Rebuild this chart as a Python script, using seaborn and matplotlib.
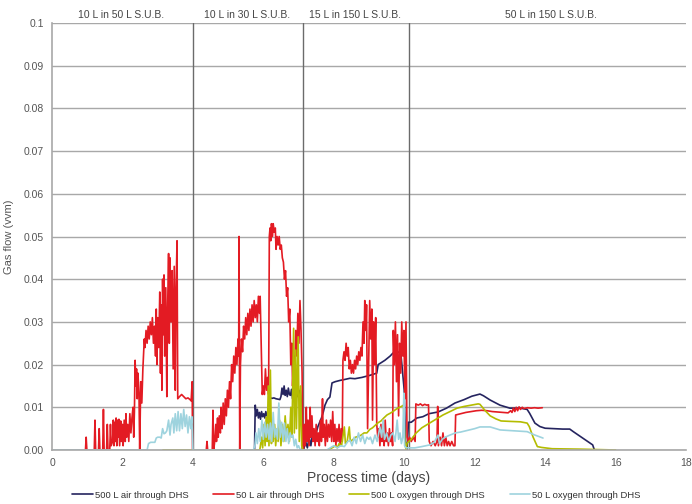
import numpy as np
import pandas as pd
import matplotlib
matplotlib.use("Agg")
import matplotlib.pyplot as plt
import seaborn as sns

# (process day, gas flow in vvm)
air_500 = [
    (5.75, 0), (5.77, 0.0105), (5.80, 0.008), (5.83, 0.0095), (5.86, 0.0075), (5.89, 0.0088),
    (5.92, 0.0072), (5.95, 0.009), (5.98, 0.0078), (6.01, 0.0085), (6.04, 0.0075), (6.07, 0.009),
    (6.10, 0.008), (6.13, 0.0088), (6.16, 0.0085), (6.19, 0.0122), (6.25, 0.0121), (6.30, 0.0122),
    (6.36, 0.012), (6.42, 0.0119), (6.47, 0.0118), (6.50, 0.0125), (6.53, 0.0145), (6.56, 0.013),
    (6.59, 0.015), (6.62, 0.0128), (6.65, 0.014), (6.68, 0.0125), (6.71, 0.0145), (6.74, 0.013),
    (6.77, 0.0128), (6.80, 0.0142), (6.83, 0.012), (6.86, 0.0148), (6.90, 0.0135), (6.93, 0.015),
    (6.96, 0.0125), (6.99, 0.0145), (7.02, 0.012), (7.05, 0.014), (7.08, 0.011), (7.11, 0.0),
    (7.14, 0.0), (7.20, 0.002), (7.25, 0.0005), (7.30, 0.003), (7.35, 0.001), (7.40, 0.004),
    (7.45, 0.002), (7.50, 0.004), (7.55, 0.0055), (7.60, 0.0065), (7.65, 0.0075), (7.70, 0.0088),
    (7.75, 0.0105), (7.82, 0.0118), (7.89, 0.0124), (7.95, 0.0157), (8.04, 0.016), (8.18, 0.0163),
    (8.30, 0.0165), (8.46, 0.0168), (8.60, 0.0167), (8.80, 0.017), (9.03, 0.0175), (9.22, 0.018),
    (9.26, 0.02), (9.45, 0.021), (9.60, 0.022), (9.68, 0.0227), (9.90, 0.023), (10.0, 0.014),
    (10.03, 0.002), (10.08, 0.0), (10.12, 0.0065), (10.20, 0.0065), (10.36, 0.0075), (10.53, 0.0078),
    (10.70, 0.0085), (10.96, 0.0089), (11.2, 0.0098), (11.44, 0.011), (11.7, 0.0118), (11.92, 0.0126),
    (12.15, 0.0131), (12.25, 0.0127), (12.44, 0.0117), (12.72, 0.0105), (13.0, 0.0098), (13.3, 0.0098),
    (13.49, 0.0095), (13.56, 0.0086), (13.71, 0.0063), (13.85, 0.0055), (14.0, 0.0051), (14.5, 0.0049),
    (14.7, 0.0049), (14.8, 0.0043), (15.35, 0.0012), (15.4, 0.0),
]

air_50 = [
    (0.95, 0), (0.97, 0.003), (0.99, 0), (1.20, 0), (1.22, 0.007), (1.24, 0),
    (1.32, 0), (1.34, 0.005), (1.36, 0), (1.44, 0), (1.46, 0.0095), (1.48, 0),
    (1.55, 0), (1.57, 0.006), (1.59, 0), (1.64, 0), (1.66, 0.006), (1.68, 0.001),
    (1.72, 0.002), (1.74, 0.007), (1.76, 0.001), (1.78, 0.0065), (1.80, 0.002), (1.82, 0.0075),
    (1.84, 0.001), (1.86, 0.007), (1.88, 0.003), (1.90, 0.0072), (1.92, 0.001), (1.95, 0.0068),
    (1.97, 0.002), (2.00, 0.006), (2.02, 0.001), (2.05, 0.007), (2.08, 0.002), (2.10, 0.0085),
    (2.12, 0.003), (2.15, 0.006), (2.18, 0.002), (2.21, 0.0085), (2.24, 0.004), (2.27, 0.0075),
    (2.30, 0.01), (2.32, 0.003), (2.34, 0.009), (2.36, 0.021), (2.38, 0.015), (2.40, 0.019),
    (2.42, 0.012), (2.44, 0.018), (2.47, 0.013), (2.49, 0.0), (2.52, 0.016), (2.55, 0.011),
    (2.58, 0.019), (2.62, 0.026), (2.64, 0.024), (2.67, 0.028), (2.70, 0.025), (2.73, 0.029),
    (2.76, 0.026), (2.79, 0.03), (2.82, 0.027), (2.85, 0.031), (2.88, 0.025), (2.91, 0.029),
    (2.94, 0.022), (2.96, 0.033), (2.98, 0.02), (3.00, 0.031), (3.03, 0.024), (3.06, 0.037),
    (3.08, 0.018), (3.10, 0.034), (3.12, 0.014), (3.14, 0.04), (3.16, 0.027), (3.18, 0.041),
    (3.20, 0.022), (3.23, 0.038), (3.26, 0.0125), (3.28, 0.032), (3.31, 0.046), (3.33, 0.025),
    (3.35, 0.045), (3.38, 0.03), (3.41, 0.042), (3.44, 0.019), (3.47, 0.043), (3.50, 0.014),
    (3.52, 0.037), (3.55, 0.049), (3.57, 0.012), (3.62, 0.0125), (3.68, 0.013), (3.74, 0.0125),
    (3.80, 0.012), (3.86, 0.0122), (3.92, 0.0118), (3.95, 0.0115), (3.98, 0.016), (3.99, 0.0),
    (4.38, 0), (4.40, 0.002), (4.42, 0), (4.55, 0), (4.57, 0.0093), (4.59, 0),
    (4.62, 0.002), (4.65, 0.006), (4.67, 0.002), (4.70, 0.0075), (4.72, 0.003), (4.75, 0.008),
    (4.78, 0.004), (4.80, 0.01), (4.83, 0.005), (4.86, 0.011), (4.89, 0.006), (4.92, 0.012),
    (4.95, 0.008), (4.98, 0.014), (5.01, 0.01), (5.04, 0.016), (5.07, 0.012), (5.10, 0.02),
    (5.13, 0.016), (5.16, 0.022), (5.19, 0.018), (5.22, 0.024), (5.25, 0.02), (5.28, 0.026),
    (5.30, 0.022), (5.31, 0.05), (5.33, 0.0), (5.35, 0.02), (5.38, 0.026), (5.41, 0.023),
    (5.44, 0.029), (5.47, 0.026), (5.50, 0.031), (5.53, 0.027), (5.56, 0.032), (5.59, 0.028),
    (5.62, 0.033), (5.65, 0.029), (5.68, 0.034), (5.71, 0.03), (5.74, 0.035), (5.77, 0.031),
    (5.80, 0.034), (5.83, 0.03), (5.86, 0.036), (5.89, 0.032), (5.91, 0.036), (5.94, 0.024),
    (5.97, 0.013), (6.00, 0.015), (6.03, 0.013), (6.06, 0.019), (6.09, 0.014), (6.12, 0.017),
    (6.15, 0.013), (6.17, 0.05), (6.19, 0.052), (6.21, 0.049), (6.23, 0.053), (6.26, 0.05),
    (6.28, 0.053), (6.31, 0.051), (6.34, 0.052), (6.36, 0.047), (6.39, 0.05), (6.42, 0.048),
    (6.45, 0.05), (6.48, 0.047), (6.51, 0.048), (6.54, 0.045), (6.57, 0.044), (6.60, 0.04),
    (6.63, 0.042), (6.66, 0.036), (6.69, 0.038), (6.72, 0.03), (6.75, 0.033), (6.78, 0.02),
    (6.81, 0.025), (6.83, 0.015), (6.86, 0.022), (6.89, 0.018), (6.92, 0.028), (6.95, 0.022),
    (6.98, 0.032), (7.01, 0.025), (7.04, 0.035), (7.07, 0.028), (7.10, 0.018), (7.12, 0.0),
    (7.14, 0), (7.17, 0.006), (7.19, 0.001), (7.22, 0.01), (7.24, 0.002), (7.27, 0.007),
    (7.30, 0.001), (7.33, 0.01), (7.35, 0.003), (7.38, 0.008), (7.41, 0.002), (7.44, 0.005),
    (7.47, 0.001), (7.50, 0.006), (7.53, 0.002), (7.56, 0.004), (7.59, 0.001), (7.62, 0.007),
    (7.65, 0.002), (7.68, 0.012), (7.70, 0.003), (7.73, 0.006), (7.76, 0.001), (7.79, 0.007),
    (7.82, 0.002), (7.85, 0.006), (7.88, 0.003), (7.91, 0.007), (7.94, 0.002), (7.97, 0.009),
    (8.00, 0.002), (8.03, 0.006), (8.06, 0.001), (8.09, 0.005), (8.12, 0.002), (8.15, 0.006),
    (8.18, 0.001), (8.21, 0.005), (8.24, 0.002), (8.26, 0.021), (8.29, 0.023), (8.32, 0.021),
    (8.35, 0.025), (8.38, 0.022), (8.41, 0.024), (8.44, 0.019), (8.47, 0.021), (8.50, 0.018),
    (8.53, 0.02), (8.56, 0.018), (8.59, 0.021), (8.62, 0.019), (8.65, 0.022), (8.68, 0.02),
    (8.71, 0.023), (8.74, 0.021), (8.77, 0.024), (8.80, 0.022), (8.83, 0.03), (8.86, 0.025),
    (8.88, 0.035), (8.91, 0.028), (8.93, 0.034), (8.96, 0.005), (8.99, 0.02), (9.02, 0.035),
    (9.05, 0.026), (9.08, 0.033), (9.10, 0.007), (9.13, 0.03), (9.16, 0.02), (9.19, 0.031),
    (9.22, 0.006), (9.25, 0.003), (9.28, 0.005), (9.31, 0.001), (9.34, 0.006), (9.37, 0.002),
    (9.40, 0.004), (9.43, 0.001), (9.46, 0.007), (9.49, 0.002), (9.52, 0.004), (9.55, 0.001),
    (9.58, 0.005), (9.61, 0.002), (9.64, 0.004), (9.67, 0.001), (9.69, 0.028), (9.72, 0.02),
    (9.75, 0.03), (9.78, 0.016), (9.81, 0.027), (9.84, 0.008), (9.87, 0.025), (9.90, 0.018),
    (9.93, 0.03), (9.96, 0.022), (9.99, 0.028), (10.02, 0.012), (10.05, 0.03), (10.08, 0.003),
    (10.11, 0.002), (10.15, 0.003), (10.2, 0.002), (10.26, 0.003), (10.31, 0.002), (10.33, 0.0108),
    (10.40, 0.0105), (10.46, 0.0108), (10.52, 0.0104), (10.58, 0.0107), (10.64, 0.0105), (10.69, 0.0106),
    (10.71, 0.002), (10.76, 0.001), (10.82, 0.002), (10.88, 0.001), (10.93, 0.002), (10.95, 0.0102),
    (10.97, 0.001), (11.02, 0.003), (11.06, 0.001), (11.10, 0.004), (11.14, 0.001), (11.18, 0.003),
    (11.22, 0.001), (11.26, 0.002), (11.30, 0.001), (11.35, 0.002), (11.40, 0.001), (11.44, 0.001),
    (11.46, 0.0082), (11.6, 0.0085), (11.75, 0.0088), (11.9, 0.009), (12.05, 0.0092), (12.2, 0.0093),
    (12.35, 0.0092), (12.5, 0.009), (12.65, 0.0089), (12.8, 0.0088), (12.95, 0.0087), (13.02, 0.0092),
    (13.06, 0.0088), (13.10, 0.0098), (13.14, 0.009), (13.18, 0.01), (13.22, 0.0092), (13.26, 0.0101),
    (13.30, 0.0095), (13.35, 0.01), (13.40, 0.0097), (13.5, 0.0099), (13.6, 0.0098), (13.7, 0.0099),
    (13.8, 0.0098), (13.92, 0.0099),
]

oxygen_500 = [
    (3.15, 0), (3.98, 0), (5.90, 0), (5.95, 0.003), (5.98, 0.0005), (6.02, 0.006),
    (6.05, 0.001), (6.08, 0.0077), (6.11, 0.002), (6.14, 0.015), (6.16, 0.001), (6.20, 0.0187),
    (6.23, 0.0015), (6.26, 0.005), (6.28, 0.002), (6.32, 0.006), (6.35, 0.001), (6.39, 0.005),
    (6.42, 0.002), (6.46, 0.007), (6.50, 0.001), (6.54, 0.006), (6.58, 0.002), (6.62, 0.008),
    (6.66, 0.003), (6.70, 0.006), (6.74, 0.002), (6.78, 0.01), (6.81, 0.003), (6.86, 0.0285),
    (6.88, 0.004), (6.92, 0.0234), (6.94, 0.005), (6.99, 0.0265), (7.02, 0.002), (7.06, 0.015),
    (7.09, 0.001), (7.12, 0), (7.85, 0), (7.95, 0.0005), (8.05, 0.001), (8.10, 0.0005),
    (8.15, 0.0015), (8.22, 0.001), (8.30, 0.0054), (8.33, 0.0015), (8.38, 0.002), (8.44, 0.0054),
    (8.47, 0.002), (8.55, 0.0025), (8.62, 0.003), (8.70, 0.0032), (8.78, 0.0035), (8.86, 0.004),
    (8.94, 0.004), (9.02, 0.0048), (9.10, 0.0052), (9.18, 0.0058), (9.26, 0.0064), (9.34, 0.0068),
    (9.42, 0.0075), (9.51, 0.0082), (9.60, 0.0086), (9.68, 0.009), (9.76, 0.0095), (9.84, 0.0099),
    (9.92, 0.0102), (9.98, 0.0105), (10.02, 0.002), (10.05, 0.0), (10.08, 0.0016), (10.2, 0.0025),
    (10.34, 0.004), (10.5, 0.0052), (10.7, 0.0062), (10.9, 0.0072), (11.1, 0.0082), (11.3, 0.009),
    (11.5, 0.0098), (11.7, 0.0102), (11.9, 0.0105), (12.1, 0.0108), (12.15, 0.0107), (12.3, 0.0092),
    (12.44, 0.008), (12.6, 0.0073), (12.75, 0.0068), (13.0, 0.0067), (13.3, 0.0066), (13.49, 0.0063),
    (13.55, 0.0055), (13.66, 0.003), (13.78, 0.0008), (13.9, 0.0006), (14.2, 0.0003), (15.0, 0.0002),
    (16.0, 0.0),
]

oxygen_50 = [
    (0, 0), (2.70, 0), (2.74, 0.0015), (2.80, 0.0018), (2.86, 0.0018), (2.92, 0.0018),
    (2.96, 0.0028), (3.00, 0.003), (3.06, 0.003), (3.10, 0.0028), (3.14, 0.005), (3.18, 0.0038),
    (3.22, 0.004), (3.26, 0.0045), (3.31, 0.007), (3.35, 0.0035), (3.38, 0.006), (3.43, 0.0075),
    (3.46, 0.004), (3.50, 0.0085), (3.54, 0.0045), (3.58, 0.009), (3.62, 0.0045), (3.66, 0.0085),
    (3.70, 0.005), (3.74, 0.0095), (3.78, 0.0055), (3.82, 0.0082), (3.86, 0.004), (3.90, 0.0078),
    (3.94, 0.005), (3.97, 0.0078), (4.0, 0.0), (5.72, 0), (5.76, 0.001), (5.79, 0.004),
    (5.83, 0.0015), (5.87, 0.005), (5.91, 0.002), (5.96, 0.007), (6.00, 0.0025), (6.04, 0.0065),
    (6.08, 0.003), (6.12, 0.006), (6.16, 0.0025), (6.20, 0.0063), (6.24, 0.002), (6.28, 0.0088),
    (6.32, 0.003), (6.36, 0.005), (6.40, 0.0025), (6.44, 0.011), (6.48, 0.003), (6.52, 0.0065),
    (6.56, 0.002), (6.60, 0.0063), (6.64, 0.002), (6.68, 0.005), (6.72, 0.0015), (6.76, 0.004),
    (6.80, 0.003), (6.84, 0.0035), (6.88, 0.001), (6.92, 0.0025), (6.96, 0.0005), (7.0, 0.001),
    (7.05, 0), (7.8, 0), (7.9, 0.0005), (8.0, 0.001), (8.1, 0.0005), (8.2, 0.001),
    (8.3, 0.0008), (8.40, 0.002), (8.46, 0.0023), (8.52, 0.001), (8.58, 0.003), (8.64, 0.0015),
    (8.70, 0.004), (8.76, 0.002), (8.82, 0.0035), (8.88, 0.0015), (8.94, 0.003), (9.00, 0.0025),
    (9.04, 0.003), (9.10, 0.0015), (9.17, 0.0035), (9.23, 0.002), (9.31, 0.0054), (9.36, 0.003),
    (9.40, 0.007), (9.44, 0.0025), (9.50, 0.004), (9.56, 0.002), (9.62, 0.0035), (9.68, 0.004),
    (9.74, 0.002), (9.80, 0.007), (9.84, 0.0025), (9.88, 0.004), (9.92, 0.0015), (9.96, 0.003),
    (9.99, 0.0133), (10.01, 0.001), (10.05, 0.0005), (10.3, 0.0005), (10.5, 0.0008), (10.73, 0.0012),
    (10.85, 0.0018), (10.96, 0.0035), (11.0, 0.0015), (11.08, 0.0025), (11.16, 0.003), (11.3, 0.0035),
    (11.45, 0.004), (11.6, 0.0042), (11.8, 0.0046), (12.0, 0.005), (12.15, 0.0054), (12.44, 0.0054),
    (12.72, 0.0047), (13.1, 0.0045), (13.49, 0.0043), (13.71, 0.0035), (13.94, 0.0028),
]

series_names = ["500 L air through DHS", "50 L air through DHS",
                "500 L oxygen through DHS", "50 L oxygen through DHS"]
series_data = [air_500, air_50, oxygen_500, oxygen_50]
colors = ["#25245f", "#e31b23", "#b4bc00", "#9ed3de"]

phase_bounds = [4.0, 7.13, 10.14]
phase_labels = ["10 L in 50 L S.U.B.", "10 L in 30 L S.U.B.",
                "15 L in 150 L S.U.B.", "50 L in 150 L S.U.B."]
phase_label_x = [1.96, 5.53, 8.6, 14.17]

y_ticks = [0, 0.01, 0.02, 0.03, 0.04, 0.05, 0.06, 0.07, 0.08, 0.09, 0.1]
y_tick_labels = ["0.00", "0.01", "0.02", "0.03", "0.04", "0.05",
                 "0.06", "0.07", "0.08", "0.09", "0.1"]
x_ticks = [0, 2, 4, 6, 8, 10, 12, 14, 16, 18]

rows = []
for name, pts in zip(series_names, series_data):
    for i, (d, v) in enumerate(pts):
        rows.append({"day": d, "vvm": v, "series": name, "order": i})
df = pd.DataFrame(rows)

sns.set_style("white")
plt.rcParams["font.family"] = ["Liberation Sans", "DejaVu Sans"]

fig = plt.figure(figsize=(6.92, 5.04), dpi=100)
ax = fig.add_axes([52 / 692, 1 - 450 / 504, 634 / 692, 427 / 504])

for y in y_ticks:
    ax.axhline(y, color="#a8a8a8", lw=1.0, zorder=0)
for b in phase_bounds:
    ax.axvline(b, color="#6b6b6b", lw=1.0, zorder=0)

sns.lineplot(data=df, x="day", y="vvm", hue="series", hue_order=series_names,
             palette=colors, estimator=None, sort=False, units="series",
             lw=1.2, ax=ax, legend=True)

ax.set_xlim(0, 18)
ax.set_ylim(0, 0.1)
ax.set_xticks(x_ticks)
ax.set_yticks(y_ticks)
ax.set_yticklabels(y_tick_labels)
ax.tick_params(axis="both", length=0, labelsize=7.5, colors="#555555", pad=6)
for s in ["top", "right"]:
    ax.spines[s].set_visible(False)
for s in ["left", "bottom"]:
    ax.spines[s].set_color("#a8a8a8")
    ax.spines[s].set_linewidth(1.2)

ax.set_xlabel("Process time (days)", fontsize=10, color="#444444", labelpad=2)
ax.set_ylabel("Gas flow (vvm)", fontsize=8, color="#555555", labelpad=7)

for lab, xpos in zip(phase_labels, phase_label_x):
    ax.text(xpos, 0.1008, lab, ha="center", va="bottom", fontsize=7.5, color="#444444")

handles, labels = ax.get_legend_handles_labels()
ax.legend(handles, labels, loc="center", bbox_to_anchor=(0.48, -0.106),
          ncol=4, frameon=False, fontsize=6.8, handlelength=2.2, handletextpad=0.2,
          columnspacing=2.6, labelcolor="#333333")

fig.savefig("out.png", dpi=100)
